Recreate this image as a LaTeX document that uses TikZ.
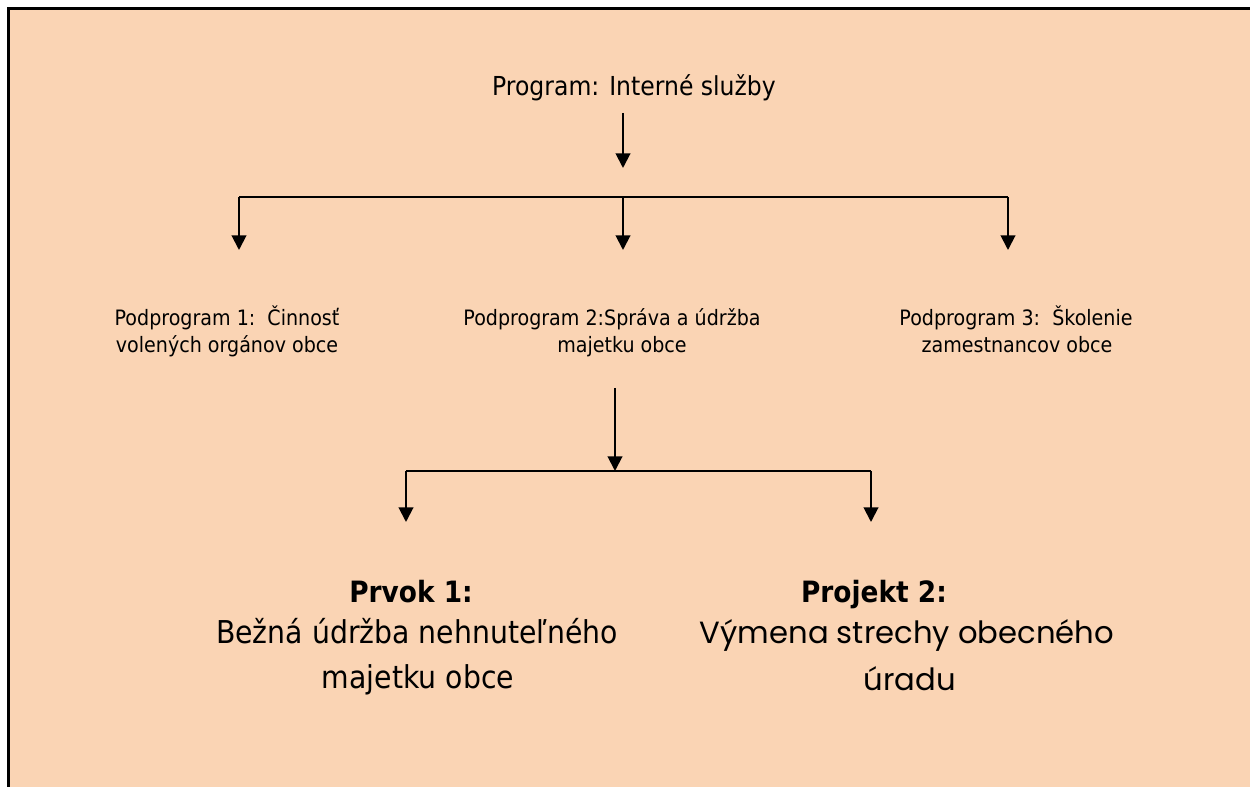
\documentclass[tikz,border=0pt]{standalone}
\usepackage{fontspec}
\setmainfont[FakeStretch=0.9]{DejaVu Sans}
\newfontfamily\gothic{Poppins}
\usetikzlibrary{arrows.meta}
\definecolor{peach}{RGB}{250,212,180}
\begin{document}
\begin{tikzpicture}[x=0.75pt,y=-0.75pt,
  arr/.style={line width=1.5pt,-{Triangle[length=11pt,width=11pt]}},
  bus/.style={line width=1.3pt},
  lbl/.style={inner sep=0pt,anchor=base},
  small/.style={lbl,font=\fontsize{15.9}{19}\selectfont},
  head/.style={lbl,font=\bfseries\fontsize{22}{26}\selectfont},
  big/.style={lbl,font=\fontsize{23.6}{28}\selectfont},
  geo/.style={lbl,font=\gothic\fontsize{23}{28}\selectfont}]
\useasboundingbox (0,0) rectangle (1250,787);
\fill[white] (0,0) rectangle (1250,787);
\fill[peach] (8.5,8.5) rectangle (1250,787);
\draw[line width=2.25pt] (8.5,787) -- (8.5,8.5) -- (1250,8.5);

% texts
\node[lbl,font=\fontsize{19.6}{23}\selectfont] (prog) at (634,96) {Program: Interné služby};
\node[small] (p1a) at (227,326) {Podprogram 1:\ \ Činnosť};
\node[small] (p1b) at (227,353) {volených orgánov obce};
\node[small] (p2a) at (612,326) {Podprogram 2:Správa a údržba};
\node[small] (p2b) at (622,353) {majetku obce};
\node[small] (p3a) at (1016,326) {Podprogram 3:\ \ Školenie};
\node[small] (p3b) at (1017,353) {zamestnancov obce};
\node[head] (prv) at (411,603) {Prvok 1:};
\node[head] (proj) at (874,603) {Projekt 2:};
\node[big] (bea) at (417,643) {Bežná údržba nehnuteľného};
\node[big] (beb) at (418,688) {majetku obce};
\node[geo] (vya) at (907,643) {Výmena strechy obecného};
\node[geo] (vyb) at (910,690) {úradu};

% connector coordinates
\coordinate (t0) at (623,113);
\coordinate (t1) at (623,168);
\coordinate (bl) at (239,197);
\coordinate (bm) at (623,197);
\coordinate (br) at (1008,197);
\coordinate (dl) at (239,250);
\coordinate (dm) at (623,250);
\coordinate (dr) at (1008,250);
\coordinate (s0) at (615,388);
\coordinate (s1) at (615,471);
\coordinate (sl) at (406,471);
\coordinate (sr) at (871,471);
\coordinate (el) at (406,522);
\coordinate (er) at (871,522);

\draw[arr] (t0) -- (t1);
\draw[bus] (bl) -- (br);
\draw[arr] (bl) -- (dl);
\draw[arr] (bm) -- (dm);
\draw[arr] (br) -- (dr);
\draw[arr] (s0) -- (s1);
\draw[bus] (sl) -- (sr);
\draw[arr] (sl) -- (el);
\draw[arr] (sr) -- (er);
\end{tikzpicture}
\end{document}
